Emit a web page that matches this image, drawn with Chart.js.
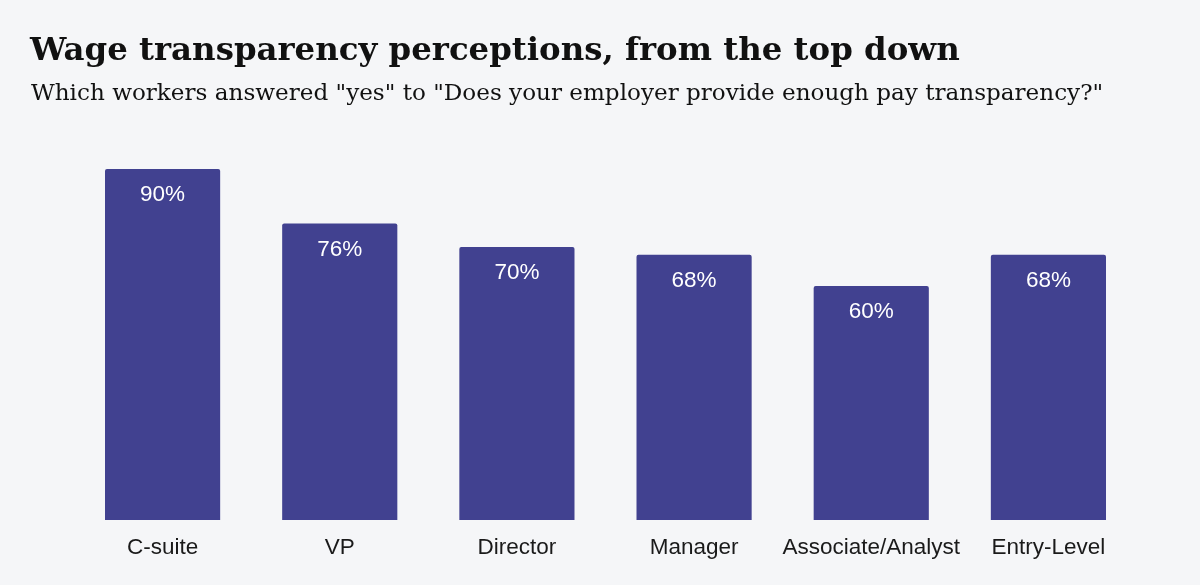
<!DOCTYPE html>
<html>
<head>
<meta charset="utf-8">
<script src="https://cdn.jsdelivr.net/npm/chart.js@4/dist/chart.umd.min.js"></script>
<style>
  html, body { margin: 0; padding: 0; background: #f5f6f8; }
  #wrap { position: relative; width: 1200px; height: 585px; }
  #title { position: absolute; left: 30px; top: 30px; font: bold 32.4px "DejaVu Serif", serif; color: #111; white-space: nowrap; }
  #sub { position: absolute; left: 31px; top: 79px; font: 23.1px "DejaVu Serif", serif; color: #111; white-space: nowrap; }
  canvas { position: absolute; left: 0; top: 0; }
</style>
</head>
<body>
<div id="wrap">
  <canvas id="c" width="1200" height="585"></canvas>
  <div id="title">Wage transparency perceptions, from the top down</div>
  <div id="sub">Which workers answered "yes" to "Does your employer provide enough pay transparency?"</div>
</div>
<script>
const levels = ['C-suite', 'VP', 'Director', 'Manager', 'Associate/Analyst', 'Entry-Level'];
const yesShare = [90, 76, 70, 68, 60, 68];

// white % label just under the top of each bar
const valueLabels = {
    id: 'valueLabels',
    afterDatasetsDraw(chart) {
        const ctx = chart.ctx;
        ctx.save();
        ctx.fillStyle = '#ffffff';
        ctx.font = '22.5px "Liberation Sans", Arial, sans-serif';
        ctx.textAlign = 'center';
        ctx.textBaseline = 'middle';
        chart.getDatasetMeta(0).data.forEach((bar, i) => {
            ctx.fillText(yesShare[i] + '%', bar.x, bar.y + 26);
        });
        ctx.restore();
    }
};

new Chart(document.getElementById('c'), {
    type: 'bar',
    data: {
        labels: levels,
        datasets: [{
            data: yesShare,
            backgroundColor: '#414190',
            borderRadius: 2,
            borderSkipped: 'bottom',
            barPercentage: 0.65,
            categoryPercentage: 1
        }]
    },
    options: {
        responsive: false,
        animation: false,
        layout: { padding: { left: 74, right: 63, top: 130, bottom: 10 } },
        plugins: { legend: { display: false }, tooltip: { enabled: false } },
        scales: {
            x: {
                grid: { display: false, drawTicks: false },
                border: { display: false },
                ticks: {
                    color: '#1a1a1a', padding: 14, maxRotation: 0, minRotation: 0, autoSkip: false,
                    font: { family: '"Liberation Sans", Arial, sans-serif', size: 22.5 }
                }
            },
            y: { display: false, min: 0, max: 100 }
        }
    },
    plugins: [valueLabels]
});
</script>
</body>
</html>
